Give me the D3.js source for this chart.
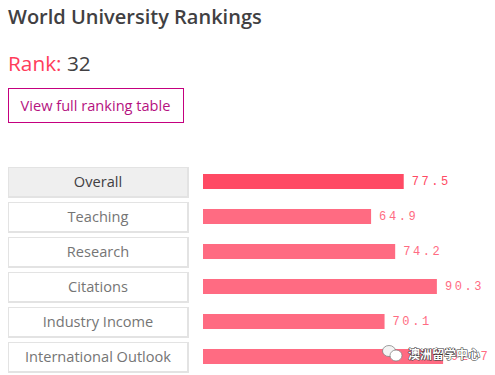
<!DOCTYPE html>
<html>
<head>
<meta charset="utf-8">
<script src="https://cdn.jsdelivr.net/npm/d3@7"></script>
<style>
html,body{margin:0;padding:0;background:#fff;overflow:hidden;}
svg{display:block;font-family:"Open Sans",sans-serif;}
.value{font-family:"Liberation Mono",monospace;font-size:12px;letter-spacing:2.6px;}
</style>
</head>
<body>
<svg width="495" height="375"></svg>
<script>
const categories = ['Overall','Teaching','Research','Citations','Industry Income','International Outlook'];
const scores = [77.5,64.9,74.2,90.3,70.1,92.7];

const svg = d3.select('svg');

svg.append('text').text('World University Rankings')
    .attr('x',8).attr('y',24)
    .attr('font-size',20).attr('font-weight',600).attr('fill','#414042');

const rank = svg.append('text').attr('x',8).attr('y',71).attr('font-size',20.8).attr('font-weight',500);
rank.append('tspan').text('Rank: ').attr('fill','#ff3d5a');
rank.append('tspan').text('32').attr('fill','#414042');

svg.append('rect')
    .attr('x',8.5).attr('y',88.5).attr('width',175).attr('height',34)
    .attr('fill','none').attr('stroke','#c4007f');
svg.append('text').text('View full ranking table')
    .attr('x',95.5).attr('y',111).attr('text-anchor','middle')
    .attr('font-size',14.6).attr('font-weight',500).attr('fill','#b5127f');

const yscale = d3.scaleBand()
    .domain(categories)
    .range([165,375])
    .paddingInner(0);

const xscale = d3.scaleLinear()
    .domain([0,100])
    .range([203,462]);

const rows = svg.selectAll('g.row').data(categories)
    .enter().append('g')
    .attr('class','row')
    .attr('transform',d => `translate(0,${yscale(d)})`);

// button: grey outer box, thicker on the right and bottom
rows.append('rect')
    .attr('x',8).attr('y',2).attr('width',181).attr('height',31)
    .attr('fill','#e3e3e3');
rows.append('rect')
    .attr('x',9).attr('y',3).attr('width',178).attr('height',28)
    .attr('fill',(d,i) => i === 0 ? '#efefef' : '#fff');

rows.append('text').text(d => d)
    .attr('x',98).attr('y',22)
    .attr('text-anchor','middle').attr('font-size',14.6)
    .attr('font-weight',500)
    .attr('fill',(d,i) => i === 0 ? '#414042' : '#757575');

rows.append('rect')
    .attr('x',xscale(0)).attr('y',9)
    .attr('width',(d,i) => xscale(scores[i]) - xscale(0))
    .attr('height',15)
    .attr('fill',(d,i) => i === 0 ? '#ff4a64' : '#ff6b82');

rows.append('text').text((d,i) => scores[i])
    .attr('class','value')
    .attr('x',(d,i) => xscale(scores[i]) + 8).attr('y',20)
    .attr('fill',(d,i) => i === 0 ? '#ff4a64' : '#ff6b82');

// wechat watermark, bottom right
const wm = svg.append('g');
wm.append('ellipse').attr('cx',389).attr('cy',351).attr('rx',6.5).attr('ry',5.5).attr('fill','#f4f4f4').attr('stroke','#777').attr('stroke-width',0.7);
wm.append('ellipse').attr('cx',396).attr('cy',355.5).attr('rx',6).attr('ry',5.5).attr('fill','#fff').attr('stroke','#777').attr('stroke-width',0.7);
wm.append('text').text('澳洲留学中心')
    .attr('x',408).attr('y',358.5)
    .attr('font-family','"Noto Sans CJK SC"').attr('font-size',12).attr('font-weight',700)
    .attr('fill','#fff')
    .attr('stroke','#333').attr('stroke-width',1).attr('paint-order','stroke');
</script>
</body>
</html>
